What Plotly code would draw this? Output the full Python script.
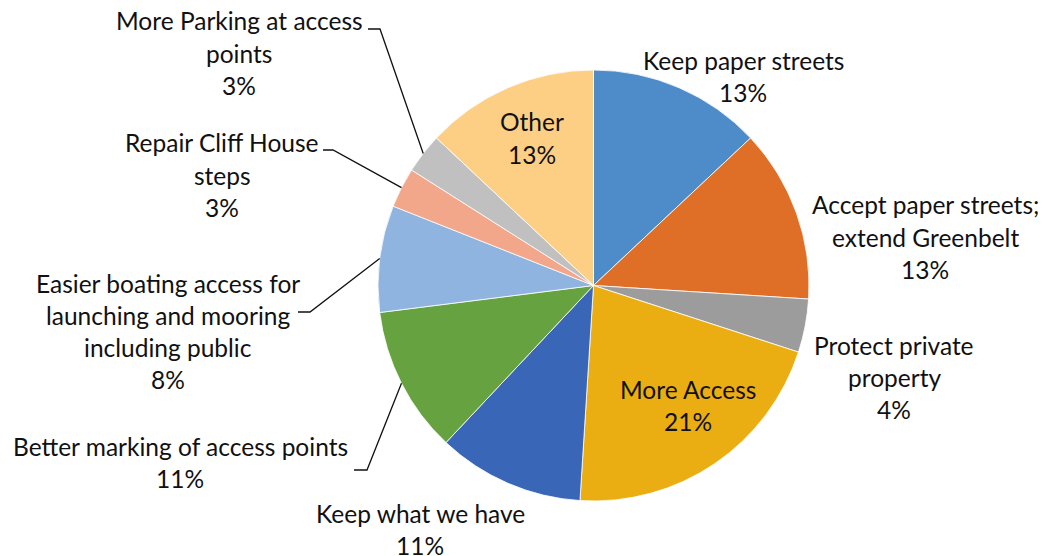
import plotly.graph_objects as go
import math

# ---- data ----
labels = ["Keep paper streets", "Accept paper streets; extend Greenbelt", "Protect private property",
          "More Access", "Keep what we have", "Better marking of access points",
          "Easier boating access for launching and mooring including public",
          "Repair Cliff House steps", "More Parking at access points", "Other"]
values = [13, 13, 4, 21, 11, 11, 8, 3, 3, 13]
colors = ["#4D8BC9", "#DF6F27", "#9C9C9C", "#EAAE12", "#3A66B8", "#66A23F",
          "#8FB4E0", "#F2A68A", "#C0C0C0", "#FDCF85"]

# label text lines (as wrapped in the chart)
label_lines = [["Keep paper streets"], ["Accept paper streets;", "extend Greenbelt"],
               ["Protect private", "property"], ["More Access"], ["Keep what we have"],
               ["Better marking of access points"],
               ["Easier boating access for", "launching and mooring", "including public"],
               ["Repair Cliff House", "steps"], ["More Parking at access", "points"], ["Other"]]

# ---- layout (pixels) ----
W, H = 1043, 556
CX, CY, R = 593.5, 285.5, 215.5
# label centre x, first line y
label_pos = [(743, 60), (925, 205), (894, 345), (688, 389), (420, 513), (180, 446),
             (168, 283), (222, 143), (239, 21), (532, 122)]
LINE = 32.3
# leader line: (text-end x, y, elbow x) or None
leaders = [None, None, None, None, None, (354, 470, 367), (298, 312, 310),
           (323, 150, 333), (368, 29, 380), None]

def px(x):
    return x / W

def py(y):
    return 1 - y / H

fig = go.Figure(go.Pie(
    labels=labels, values=values, sort=False, direction="clockwise", rotation=0,
    marker=dict(colors=colors, line=dict(color="white", width=0.8)),
    textinfo="none", hoverinfo="label+percent", showlegend=False,
    domain=dict(x=[px(CX - R), px(CX + R)], y=[py(CY + R), py(CY - R)]),
))

total = sum(values)
annotations = []
shapes = []
cum = 0
for i, v in enumerate(values):
    pct = f"{v / total * 100:.0f}%"
    lines = label_lines[i] + [pct]
    lx, ly = label_pos[i]
    for j, t in enumerate(lines):
        annotations.append(dict(x=px(lx), y=py(ly + j * LINE), xref="paper", yref="paper",
                                text=t, showarrow=False, xanchor="center", yanchor="middle",
                                font=dict(family="Lato", size=24.5, color="#111111")))
    mid = (cum + v / 2) / total * 2 * math.pi
    cum += v
    if leaders[i]:
        tx, ty, ex = leaders[i]
        ax = CX + R * math.sin(mid)
        ay = CY - R * math.cos(mid)
        shapes.append(dict(type="path", xref="paper", yref="paper",
                           path=f"M {px(tx)},{py(ty)} L {px(ex)},{py(ty)} L {px(ax)},{py(ay)}",
                           line=dict(color="#111111", width=1.3)))

fig.update_layout(width=W, height=H, margin=dict(l=0, r=0, t=0, b=0),
                  paper_bgcolor="white", plot_bgcolor="white",
                  annotations=annotations, shapes=shapes)
fig.write_html("out.html", config={"displayModeBar": False},
               post_script="document.body.style.margin='0';")
